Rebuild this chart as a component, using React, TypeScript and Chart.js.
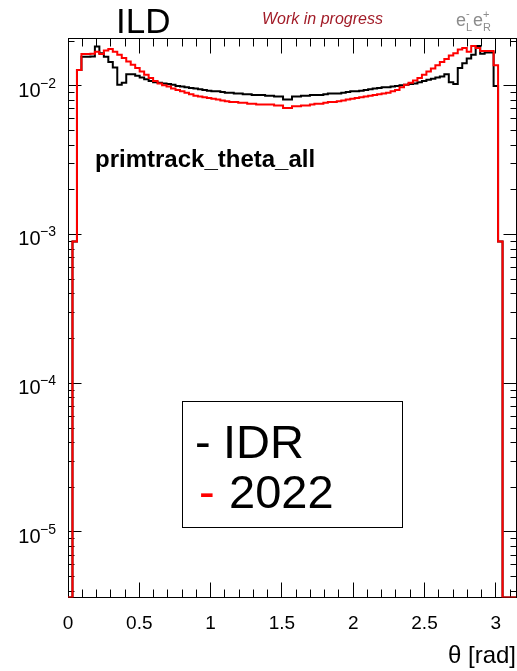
import React, { useEffect, useRef } from 'react';
import { Chart, registerables } from 'chart.js';

Chart.register(...registerables);

// ---------------- data ----------------
const N_BINS = 100;
const THETA_MAX = Math.PI;
const Y_MIN = 3.626e-6;
const Y_MAX = 0.02102;

const seriesLabels = ['IDR', '2022'];

// black histogram (IDR), 100 bins over [0, pi]; 0 = empty bin
const idrValues = [
  0, 0, 0.0009, 0.0128, 0.0157, 0.0157, 0.0158, 0.0184, 0.0166, 0.0157,
  0.0145, 0.0133, 0.0102, 0.0105, 0.0120, 0.0120, 0.0117, 0.0114, 0.0111, 0.0108,
  0.0106, 0.0105, 0.0104, 0.0103, 0.0102, 0.0100, 0.0099, 0.0098, 0.0097, 0.0096,
  0.0095, 0.0094, 0.0093, 0.0092, 0.0092, 0.0091, 0.0090, 0.0090, 0.0089, 0.0089,
  0.0088, 0.0088, 0.0087, 0.0087, 0.0087, 0.0086, 0.0086, 0.0085, 0.0085, 0.0081,
  0.0081, 0.0085, 0.0085, 0.0086, 0.0086, 0.0087, 0.0087, 0.0087, 0.0088, 0.0089,
  0.0089, 0.0089, 0.0090, 0.0091, 0.0092, 0.0092, 0.0093, 0.0094, 0.0095, 0.0096,
  0.0097, 0.0098, 0.0098, 0.0099, 0.0100, 0.0101, 0.0102, 0.0103, 0.0104, 0.0106,
  0.0108, 0.0110, 0.0112, 0.0114, 0.0116, 0.0120, 0.0106, 0.0103, 0.0132, 0.0142,
  0.0153, 0.0162, 0.0186, 0.0165, 0.0168, 0.0168, 0.0100, 0.0009, 0, 0,
];

// red histogram (2022)
const y2022Values = [
  0, 0, 0.0009, 0.0128, 0.0164, 0.0164, 0.0165, 0.0170, 0.0164, 0.0173,
  0.0177, 0.0170, 0.0162, 0.0154, 0.0146, 0.0139, 0.0132, 0.0125, 0.0119, 0.0113,
  0.0108, 0.0104, 0.0101, 0.0099, 0.0096, 0.0094, 0.0092, 0.0090, 0.0088, 0.0086,
  0.0085, 0.0084, 0.0083, 0.0082, 0.0081, 0.0080, 0.0079, 0.0078, 0.0078, 0.0077,
  0.0077, 0.0076, 0.0076, 0.0075, 0.0075, 0.0075, 0.0075, 0.0074, 0.0074, 0.0071,
  0.0071, 0.0073, 0.0073, 0.0074, 0.0074, 0.0075, 0.0076, 0.0076, 0.0077, 0.0078,
  0.0078, 0.0079, 0.0080, 0.0081, 0.0082, 0.0083, 0.0084, 0.0085, 0.0086, 0.0087,
  0.0088, 0.0089, 0.0090, 0.0092, 0.0094, 0.0098, 0.0102, 0.0105, 0.0109, 0.0113,
  0.0119, 0.0125, 0.0131, 0.0138, 0.0145, 0.0152, 0.0160, 0.0166, 0.0176, 0.0180,
  0.0170, 0.0186, 0.0180, 0.0172, 0.0172, 0.0172, 0.0138, 0.0009, 0, 0,
];

const xTickValues = [0, 0.5, 1, 1.5, 2, 2.5, 3];
const yTickValues = [1e-5, 1e-4, 1e-3, 1e-2];

// ---------------- helpers ----------------
const FONT = '"Liberation Sans", Arial, Helvetica, sans-serif';

function histPoints(values: number[]) {
  const w = THETA_MAX / N_BINS;
  const pts = values.map((v, i) => ({ x: i * w, y: v > 0 ? v : Y_MIN }));
  pts.push({ x: N_BINS * w, y: pts[pts.length - 1].y });
  return pts;
}

const COLORS = ['#000000', '#ff0000'];

const rootPlugin = {
  id: 'rootFrame',
  beforeDatasetsDraw(chart: any) {
    const { ctx, chartArea: a, scales } = chart;
    const xs = scales.x;
    const ys = scales.y;
    const L = Math.floor(a.left) + 0.5;
    const R = Math.floor(a.right) + 0.5;
    const T = Math.floor(a.top) + 0.5;
    const B = Math.floor(a.bottom) + 0.5;
    ctx.save();
    ctx.strokeStyle = '#000';
    ctx.lineWidth = 1;
    ctx.strokeRect(L, T, R - L, B - T);
    ctx.beginPath();
    // x ticks, primary 0.5 and secondary 0.1
    for (let i = 0; i <= 31; i++) {
      const v = i / 10;
      if (v > THETA_MAX) break;
      const px = Math.floor(xs.getPixelForValue(v)) + 0.5;
      const len = i % 5 === 0 ? 15 : 8;
      ctx.moveTo(px, B);
      ctx.lineTo(px, B - len);
      ctx.moveTo(px, T);
      ctx.lineTo(px, T + len);
    }
    // y ticks (log)
    for (let e = -6; e <= -1; e++) {
      for (let m = 1; m <= 9; m++) {
        const v = m * Math.pow(10, e);
        if (v < Y_MIN || v > Y_MAX) continue;
        const py = Math.floor(ys.getPixelForValue(v)) + 0.5;
        const len = m === 1 ? 13 : 6;
        ctx.moveTo(L, py);
        ctx.lineTo(L + len, py);
        ctx.moveTo(R, py);
        ctx.lineTo(R - len, py);
      }
    }
    ctx.stroke();
    ctx.restore();
  },
  afterDraw(chart: any) {
    const { ctx, scales } = chart;
    const ys = scales.y;
    const datasets = chart.data.datasets;
    ctx.save();
    ctx.textBaseline = 'alphabetic';
    ctx.textAlign = 'left';
    // y tick labels 10^n with real superscripts, placed by the log scale
    ctx.fillStyle = '#000';
    yTickValues.forEach((v) => {
      const py = ys.getPixelForValue(v);
      const sup = '\u2212' + String(Math.abs(Math.round(Math.log10(v))));
      ctx.font = `14px ${FONT}`;
      const supW = ctx.measureText(sup).width;
      ctx.font = `20px ${FONT}`;
      const baseW = ctx.measureText('10').width;
      const supX = 56 - supW;
      ctx.fillText('10', supX - baseW + 0.5, py + 10.7);
      ctx.font = `14px ${FONT}`;
      ctx.fillText(sup, supX, py + 1.7);
    });
    // ILD
    ctx.fillStyle = '#000';
    ctx.font = `35px ${FONT}`;
    ctx.fillText('ILD', 116, 33);
    // Work in progress
    ctx.fillStyle = '#a21c28';
    ctx.font = `italic 16px ${FONT}`;
    ctx.fillText('Work in progress', 262, 24);
    // e_L^- e_R^+
    ctx.fillStyle = '#8c8c8c';
    ctx.font = `18px ${FONT}`;
    ctx.fillText('e', 456, 26);
    ctx.fillText('e', 473, 26);
    ctx.font = `11px ${FONT}`;
    ctx.fillText('-', 466, 17);
    ctx.fillText('L', 466, 31);
    ctx.fillText('+', 483, 18);
    ctx.fillText('R', 483, 31);
    // histogram name
    ctx.fillStyle = '#000';
    ctx.font = `bold 24px ${FONT}`;
    ctx.fillText('primtrack_theta_all', 95, 167);
    // legend box
    ctx.strokeStyle = '#000';
    ctx.lineWidth = 1;
    ctx.fillStyle = '#fff';
    ctx.fillRect(182.5, 401.5, 220, 126);
    ctx.strokeRect(182.5, 401.5, 220, 126);
    ctx.font = `47px ${FONT}`;
    const rows = [
      { y: 458, dashX: 195, textX: 223 },
      { y: 508, dashX: 199, textX: 229 },
    ];
    datasets.forEach((ds: any, i: number) => {
      const r = rows[i];
      ctx.fillStyle = ds.borderColor;
      ctx.fillText('-', r.dashX, r.y);
      ctx.fillStyle = '#000';
      ctx.fillText(ds.label, r.textX, r.y);
    });
    ctx.restore();
  },
};

export default function App() {
  const ref = useRef<HTMLCanvasElement>(null);
  useEffect(() => {
    if (!ref.current) return;
    const chart = new Chart(ref.current, {
      type: 'line',
      data: {
        datasets: [
          {
            label: seriesLabels[0],
            data: histPoints(idrValues),
            borderColor: COLORS[0],
            backgroundColor: COLORS[0],
            borderWidth: 2,
            pointRadius: 0,
            stepped: 'after',
            fill: false,
            order: 2,
          },
          {
            label: seriesLabels[1],
            data: histPoints(y2022Values),
            borderColor: COLORS[1],
            backgroundColor: COLORS[1],
            borderWidth: 2,
            pointRadius: 0,
            stepped: 'after',
            fill: false,
            order: 1,
          },
        ],
      },
      options: {
        responsive: false,
        animation: false,
        events: [],
        layout: { padding: { left: 0, right: 1, top: 38, bottom: 0 } },
        plugins: { legend: { display: false }, tooltip: { enabled: false } },
        scales: {
          x: {
            type: 'linear',
            min: 0,
            max: THETA_MAX,
            grid: { display: false, drawTicks: false },
            border: { display: false },
            afterBuildTicks: (s: any) => {
              s.ticks = xTickValues.map((v) => ({ value: v }));
            },
            afterFit: (s: any) => {
              s.height = 671 - 597.5;
            },
            ticks: {
              autoSkip: false,
              maxRotation: 0,
              padding: 15,
              color: '#000',
              font: { family: FONT, size: 19 },
              callback: (v: any) => String(v),
            },
            title: {
              display: true,
              text: 'θ [rad]',
              align: 'end',
              color: '#000',
              font: { family: FONT, size: 24 },
              padding: { top: 0, bottom: 0 },
            },
          },
          y: {
            type: 'logarithmic',
            min: Y_MIN,
            max: Y_MAX,
            grid: { display: false, drawTicks: false },
            border: { display: false },
            afterBuildTicks: (s: any) => {
              s.ticks = yTickValues.map((v) => ({ value: v }));
            },
            afterFit: (s: any) => {
              s.width = 68;
            },
            ticks: { display: false },
          },
        },
      },
      plugins: [rootPlugin],
    } as any);
    return () => chart.destroy();
  }, []);
  return (
    <div style={{ position: 'absolute', left: 0, top: 0, width: 517, height: 671, background: '#fff' }}>
      <canvas ref={ref} width={517} height={671} style={{ display: 'block' }} />
    </div>
  );
}
